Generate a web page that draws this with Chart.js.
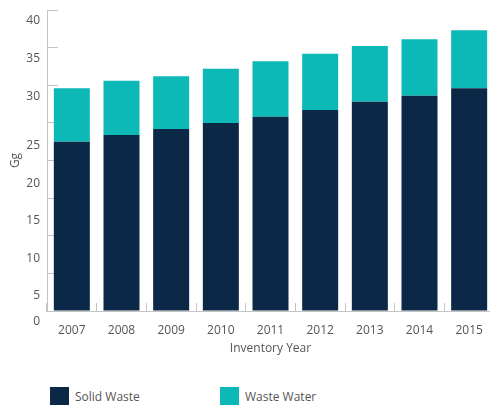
<!DOCTYPE html>
<html>
<head>
<meta charset="utf-8">
<script src="https://cdn.jsdelivr.net/npm/chart.js@4.4.0/dist/chart.umd.min.js"></script>
<style>
  html, body { margin: 0; padding: 0; background: #fff; overflow: hidden; }
  #wrap { position: relative; width: 490px; height: 405px; overflow: hidden; }
  #box { position: absolute; left: 0; top: 0; width: 494px; height: 362px; }
  #legend { position: absolute; left: 50px; top: 387px; font: 12px "Open Sans"; color: #555; }
  .item { position: absolute; top: 0; display: flex; align-items: center; white-space: nowrap; }
  .swatch { width: 19px; height: 19px; margin-right: 6px; }
</style>
</head>
<body>
<div id="wrap">
  <div id="box"><canvas id="grafico"></canvas></div>
  <div id="legend"></div>
</div>
<script>
const anos = ["2007", "2008", "2009", "2010", "2011", "2012", "2013", "2014", "2015"];
const solidWaste = [22.5, 23.4, 24.2, 25.0, 25.8, 26.7, 27.8, 28.6, 29.6];
const wasteWater = [7.1, 7.2, 7.0, 7.2, 7.4, 7.5, 7.4, 7.5, 7.7];
const nomesSeries = ["Solid Waste", "Waste Water"];
const coresSeries = ["#0b2947", "#0db9b6"];

// the y labels in the original sit a bit below their ticks, not evenly
const deslocY = [11, 22, 23, 22, 23, 23, 11, 11, 11];

const textoCor = "#555555";
const linhaCor = "#c4c4c4";
const fonte = "'Open Sans', sans-serif";

const ajustarRotulosY = {
  id: "ajustarRotulosY",
  afterLayout: (chart) => {
    const y = chart.scales.y;
    const itens = y.getLabelItems(chart.chartArea);
    itens.forEach((item, i) => {
      item.options.translation[1] += deslocY[i] || 0;
    });
  },
};

const gerarGrafico = () => {
  var ctx = document.getElementById("grafico").getContext("2d");
  var myChart = new Chart(ctx, {
    type: "bar",
    data: {
      labels: anos,
      datasets: [
        { label: nomesSeries[0], data: solidWaste, backgroundColor: coresSeries[0] },
        { label: nomesSeries[1], data: wasteWater, backgroundColor: coresSeries[1] },
      ],
    },
    options: {
      responsive: true,
      maintainAspectRatio: false,
      animation: false,
      layout: { padding: { left: 4, top: 10, right: 0, bottom: 2 } },
      datasets: { bar: { categoryPercentage: 1, barPercentage: 0.725 } },
      plugins: {
        legend: { display: false },
        tooltip: { enabled: false },
      },
      scales: {
        x: {
          stacked: true,
          grid: { drawOnChartArea: false, tickLength: -8, color: linhaCor },
          border: { color: linhaCor },
          ticks: { color: textoCor, padding: 20, font: { family: fonte, size: 12 } },
          title: {
            display: true,
            text: "Inventory Year",
            color: textoCor,
            font: { family: fonte, size: 12 },
            padding: { top: 4, bottom: 4 },
          },
          afterFit: (scale) => {
            scale.height = 49;
            scale.paddingLeft = 0;
            scale.paddingRight = 0;
          },
        },
        y: {
          stacked: true,
          min: 0,
          max: 40,
          grid: { drawOnChartArea: false, tickLength: -11, color: linhaCor },
          border: { color: linhaCor },
          ticks: { stepSize: 5, color: textoCor, padding: 18, font: { family: fonte, size: 12 } },
          title: {
            display: true,
            text: "Gg",
            color: textoCor,
            font: { family: fonte, size: 12 },
            padding: { top: 4, bottom: 4 },
          },
          afterFit: (scale) => {
            scale.width = 43;
            scale.paddingTop = 0;
            scale.paddingBottom = 0;
          },
        },
      },
    },
    plugins: [ajustarRotulosY],
  });
  return myChart;
};

const montarLegenda = (chart) => {
  const legenda = document.getElementById("legend");
  const posicoes = [0, 170];
  chart.data.datasets.forEach((ds, i) => {
    const item = document.createElement("div");
    item.className = "item";
    item.style.left = posicoes[i] + "px";
    const quadrado = document.createElement("span");
    quadrado.className = "swatch";
    quadrado.style.background = ds.backgroundColor;
    const texto = document.createElement("span");
    texto.textContent = ds.label;
    item.appendChild(quadrado);
    item.appendChild(texto);
    legenda.appendChild(item);
  });
};

const grafico = gerarGrafico();
montarLegenda(grafico);
</script>
</body>
</html>
